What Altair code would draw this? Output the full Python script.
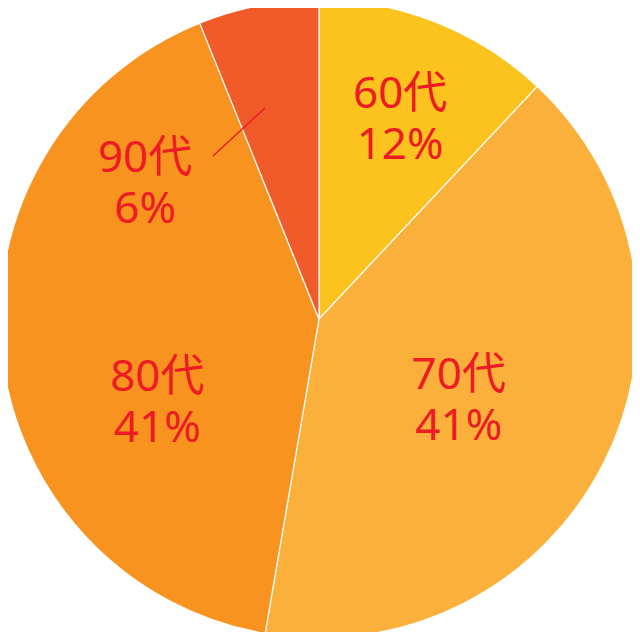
import altair as alt
import pandas as pd

categories = ["60代", "70代", "80代", "90代"]
shares = [12.0, 40.7, 41.2, 6.1]
pct_labels = ["12%", "41%", "41%", "6%"]
colors = ["#FCC21E", "#FBB03B", "#F7931E", "#F15A29"]

df = pd.DataFrame({
    "cat": categories,
    "share": shares,
    "pct": pct_labels,
    "order": list(range(len(categories))),
})

W = 624
CX = 311
CY = 311
R = 319

theta = alt.Theta("share:Q", stack=True, scale=alt.Scale(range=[0, 6.283185307179586]))
color = alt.Color("cat:N", scale=alt.Scale(domain=categories, range=colors), legend=None)

base = alt.Chart(df).encode(
    theta=theta,
    order=alt.Order("order:Q"),
    x=alt.value(CX),
    y=alt.value(CY),
)

arcs = base.mark_arc(outerRadius=R, stroke="white", strokeWidth=1.2).encode(color=color)

FONT = "Noto Sans, Noto Sans CJK JP, sans-serif"
# label placement tweaks per slice: (radius, theta offset in radians)
placement = {"60代": (215, 0.01), "70代": (162, 0.068), "80代": (182, -0.37), "90代": (220, -0.72)}

layers = [arcs]
for cat in categories:
    rad, toff = placement[cat]
    t = base.mark_text(
        radius=rad, thetaOffset=toff, font=FONT, fontSize=44, color="#ED1C24",
        lineBreak="\n", lineHeight=51, align="center", baseline="middle", dy=-25,
    ).transform_calculate(
        lab="datum.cat + '\\n' + datum.pct"
    ).encode(
        text=alt.condition(alt.datum.cat == cat, "lab:N", alt.value(""))
    )
    layers.append(t)

leader = alt.Chart(df).transform_filter(alt.datum.cat == "90代").mark_rule(
    color="#ED1C24", strokeWidth=1.5
).encode(x=alt.value(205), y=alt.value(148), x2=alt.value(257), y2=alt.value(100))
layers.append(leader)

chart = alt.layer(*layers).properties(
    width=W, height=W, padding=0, autosize=alt.AutoSizeParams(type="none")
).configure_view(stroke=None)

chart.save("out.html", embed_options={"renderer": "svg", "actions": False})
